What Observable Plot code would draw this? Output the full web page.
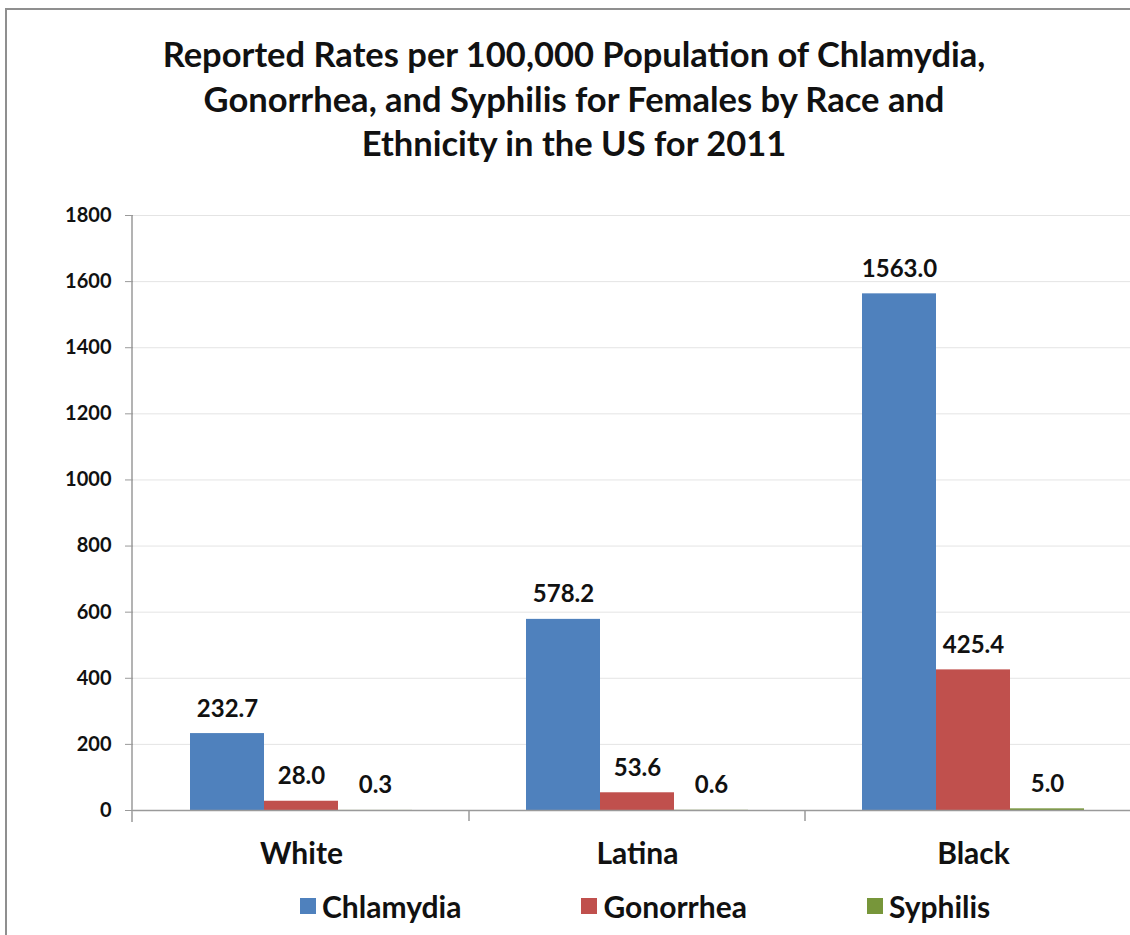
<!DOCTYPE html>
<html>
<head>
<meta charset="utf-8">
<script src="https://cdn.jsdelivr.net/npm/d3@7"></script>
<script src="https://cdn.jsdelivr.net/npm/@observablehq/plot@0.6"></script>
<style>
  html, body { margin: 0; padding: 0; background: #fff; }
  #wrap { position: relative; width: 1130px; height: 935px; overflow: hidden; font-family: Lato, "Open Sans", sans-serif; }
  #frame { position: absolute; left: 5px; top: 8px; width: 1200px; height: 1000px; border: 2px solid #8f8f8f; box-sizing: border-box; }
  #title { position: absolute; left: 0; top: 32px; width: 1148px; text-align: center; font-weight: bold; font-size: 34.5px; line-height: 44.5px; color: #111; }
  #chart { position: absolute; left: 0; top: 0; width: 1142px; }
  #legend { position: absolute; left: 300px; top: 888px; display: flex; gap: 120px; font-weight: bold; font-size: 30px; color: #111; }
  #legend .item { display: flex; align-items: center; }
  #legend .sw { width: 16px; height: 16px; margin-right: 6px; }
  g[aria-label^="y-axis"] text { font-size: 20px; font-weight: bold; fill: #111; }
  g[aria-label^="fx-axis"] text { font-size: 30px; font-weight: bold; fill: #111; }
</style>
</head>
<body>
<div id="wrap">
  <div id="frame"></div>
  <div id="title"></div>
  <div id="chart"></div>
  <div id="legend"></div>
</div>
<script>
const titleLines = ["Reported Rates per 100,000 Population of Chlamydia,", "Gonorrhea, and Syphilis for Females by Race and", "Ethnicity in the US for 2011"];
const races = ["White", "Latina", "Black"];
const diseases = ["Chlamydia", "Gonorrhea", "Syphilis"];
const chlamydia = [232.7, 578.2, 1563.0];
const gonorrhea = [28.0, 53.6, 425.4];
const syphilis = [0.3, 0.6, 5.0];
const yTicks = [0, 200, 400, 600, 800, 1000, 1200, 1400, 1600, 1800];
const colors = ["#4F81BD", "#C0504D", "#77963A"];

const seriesValues = [chlamydia, gonorrhea, syphilis];
const data = [];
races.forEach((race, i) => {
  diseases.forEach((disease, j) => {
    data.push({race, disease, value: seriesValues[j][i]});
  });
});

document.getElementById("title").innerHTML = titleLines.map(l => `<div>${l}</div>`).join("");

const plot = Plot.plot({
  width: 1142,
  height: 880,
  marginTop: 215,
  marginBottom: 70,
  marginLeft: 132,
  marginRight: 0,
  style: {fontFamily: "Lato, 'Open Sans', sans-serif", background: "transparent", overflow: "visible", color: "#111", maxWidth: "none"},
  fx: {domain: races, padding: 0, label: null, tickSize: 0, tickPadding: 32},
  x: {domain: diseases, paddingInner: 0, paddingOuter: 0.745, axis: null},
  y: {domain: [0, 1800], ticks: yTicks, tickSize: 8, tickPadding: 14, tickFormat: "d", label: null},
  color: {domain: diseases, range: colors},
  marks: [
    Plot.ruleY(yTicks.filter(d => d > 0), {stroke: "#e4e4e4", strokeWidth: 1}),
    Plot.barY(data, {fx: "race", x: "disease", y: "value", fill: "disease"}),
    Plot.ruleY([0], {stroke: "#9a9a9a", strokeWidth: 1.5}),
    Plot.text(data, {fx: "race", x: "disease", y: "value", text: d => d.value.toFixed(1), dy: -17, lineAnchor: "bottom", fontSize: 24, fontWeight: "bold", fill: "#111"})
  ]
});
document.getElementById("chart").appendChild(plot);

// axis lines and category separators derived from the plot's own scales
const yS = plot.scale("y");
const fxS = plot.scale("fx");
const svg = d3.select(plot);
const y0 = yS.apply(0);
const yTop = yS.apply(1800);
const g = svg.append("g").attr("stroke", "#9a9a9a").attr("stroke-width", 1.5);
g.append("line").attr("x1", 132).attr("x2", 132).attr("y1", yTop).attr("y2", y0 + 12);
races.slice(1).forEach(r => {
  const x = fxS.apply(r);
  g.append("line").attr("x1", x).attr("x2", x).attr("y1", y0).attr("y2", y0 + 11);
});
svg.selectAll('g[aria-label^="y-axis"] path, g[aria-label^="y-axis"] line').attr("stroke", "#9a9a9a");

const legend = document.getElementById("legend");
diseases.forEach((d, i) => {
  const item = document.createElement("div");
  item.className = "item";
  item.innerHTML = `<span class="sw" style="background:${colors[i]}"></span><span>${d}</span>`;
  legend.appendChild(item);
});
</script>
</body>
</html>
